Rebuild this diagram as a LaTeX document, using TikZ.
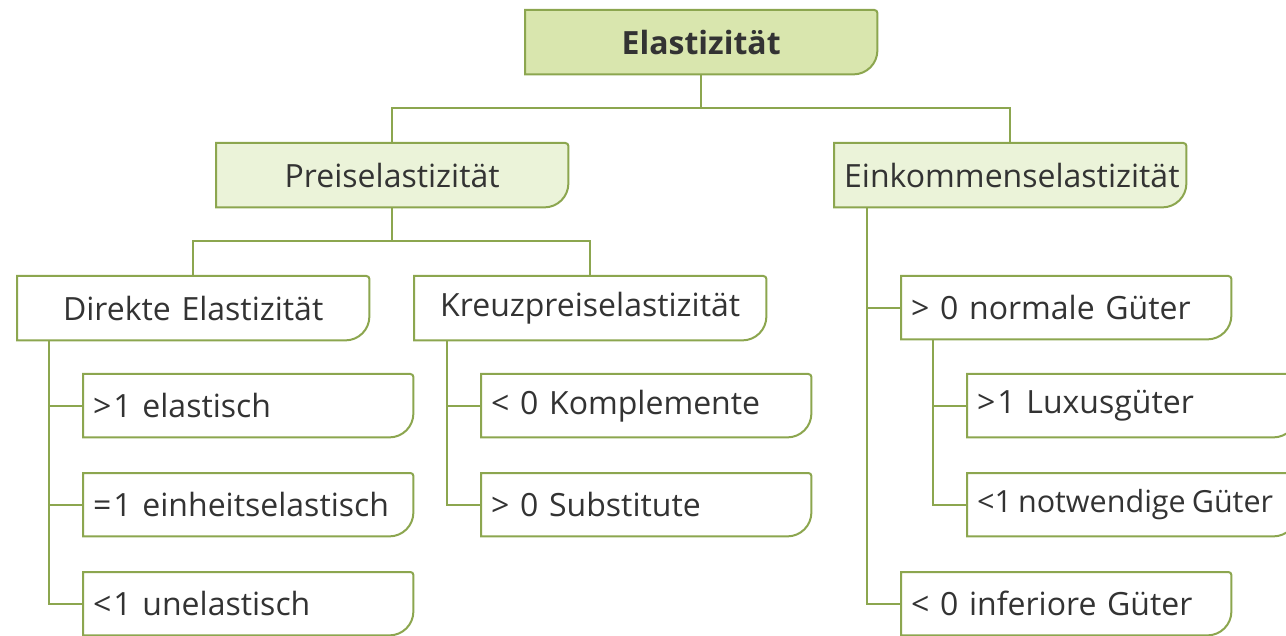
\documentclass[tikz,border=0pt]{standalone}
\usepackage{fontspec}
\setmainfont[WordSpace=0.85]{Open Sans}
\usetikzlibrary{backgrounds}
\definecolor{lg}{HTML}{8CA64F}
\definecolor{fzero}{HTML}{D9E6AE}
\definecolor{fone}{HTML}{EBF3D9}
\definecolor{tx}{HTML}{333333}
\newcommand\gshape[2]{\draw[lg, line width=2pt, fill=#2] (#1.north west) -- ([xshift=-3pt]#1.north east) arc[start angle=90,end angle=0,radius=3pt] -- ([yshift=24pt]#1.south east) arc[start angle=0,end angle=-90,radius=24pt] -- (#1.south west) -- cycle;}
\tikzset{
  box/.style={anchor=north west, inner sep=0pt, inner xsep=10pt, minimum height=64pt, text=tx, font=\fontsize{32}{34}\selectfont},
  cbox/.style={box, text width=332pt, align=center},
  lbox/.style={box, minimum height=63pt, text width=310pt, align=left},
  conn/.style={lg, line width=2pt}
}
\begin{document}
\begin{tikzpicture}[x=1pt,y=1pt]
\useasboundingbox (0,0) rectangle (1286,-636);
\node[cbox, font=\fontsize{32}{34}\selectfont\bfseries] (E) at (525,-10) {Elastizität};
\node[cbox] (P) at (216,-143) {Preiselastizität};
\node[cbox] (I) at (834,-143) {Einkommenselastizität};
\node[cbox] (D) at (17,-276) {Direkte Elastizität};
\node[cbox] (K) at (414,-276) {Kreuzpreiselastizität};
\node[lbox] (D1) at (83,-374) {>\kern2pt1 elastisch};
\node[lbox] (D2) at (83,-473) {=\kern2pt1 einheitselastisch};
\node[lbox] (D3) at (83,-572) {<\kern2pt1 unelastisch};
\node[lbox] (K1) at (481,-374) {< 0 Komplemente};
\node[lbox] (K2) at (481,-473) {> 0 Substitute};
\node[lbox] (N) at (901,-276) {> 0 normale Güter};
\node[lbox] (N1) at (967,-374) {>\kern2pt1 Luxusgüter};
\node[lbox, font=\fontsize{30.5}{34}\selectfont] (N2) at (967,-473) {\mbox{<1\hspace{6pt}notwendige\hspace{6pt}Güter}};
\node[lbox] (Q) at (901,-572) {< 0 inferiore Güter};
\begin{scope}[on background layer]
\gshape{E}{fzero}
\gshape{P}{fone}
\gshape{I}{fone}
\foreach \n in {D,K,D1,D2,D3,K1,K2,N,N1,N2,Q} {\gshape{\n}{white}}
\end{scope}
\draw[conn] (E.south) -- ++(0,-34) -| (P.north);
\draw[conn] (E.south) -- ++(0,-34) -| (I.north);
\draw[conn] (P.south) -- ++(0,-34) -| (D.north);
\draw[conn] (P.south) -- ++(0,-34) -| (K.north);
\foreach \c in {D1,D2,D3} {\draw[conn] ([xshift=32pt]D.south west) |- (\c.west);}
\foreach \c in {K1,K2} {\draw[conn] ([xshift=33pt]K.south west) |- (\c.west);}
\foreach \c in {N,Q} {\draw[conn] ([xshift=33pt]I.south west) |- (\c.west);}
\foreach \c in {N1,N2} {\draw[conn] ([xshift=32pt]N.south west) |- (\c.west);}
\end{tikzpicture}
\end{document}
